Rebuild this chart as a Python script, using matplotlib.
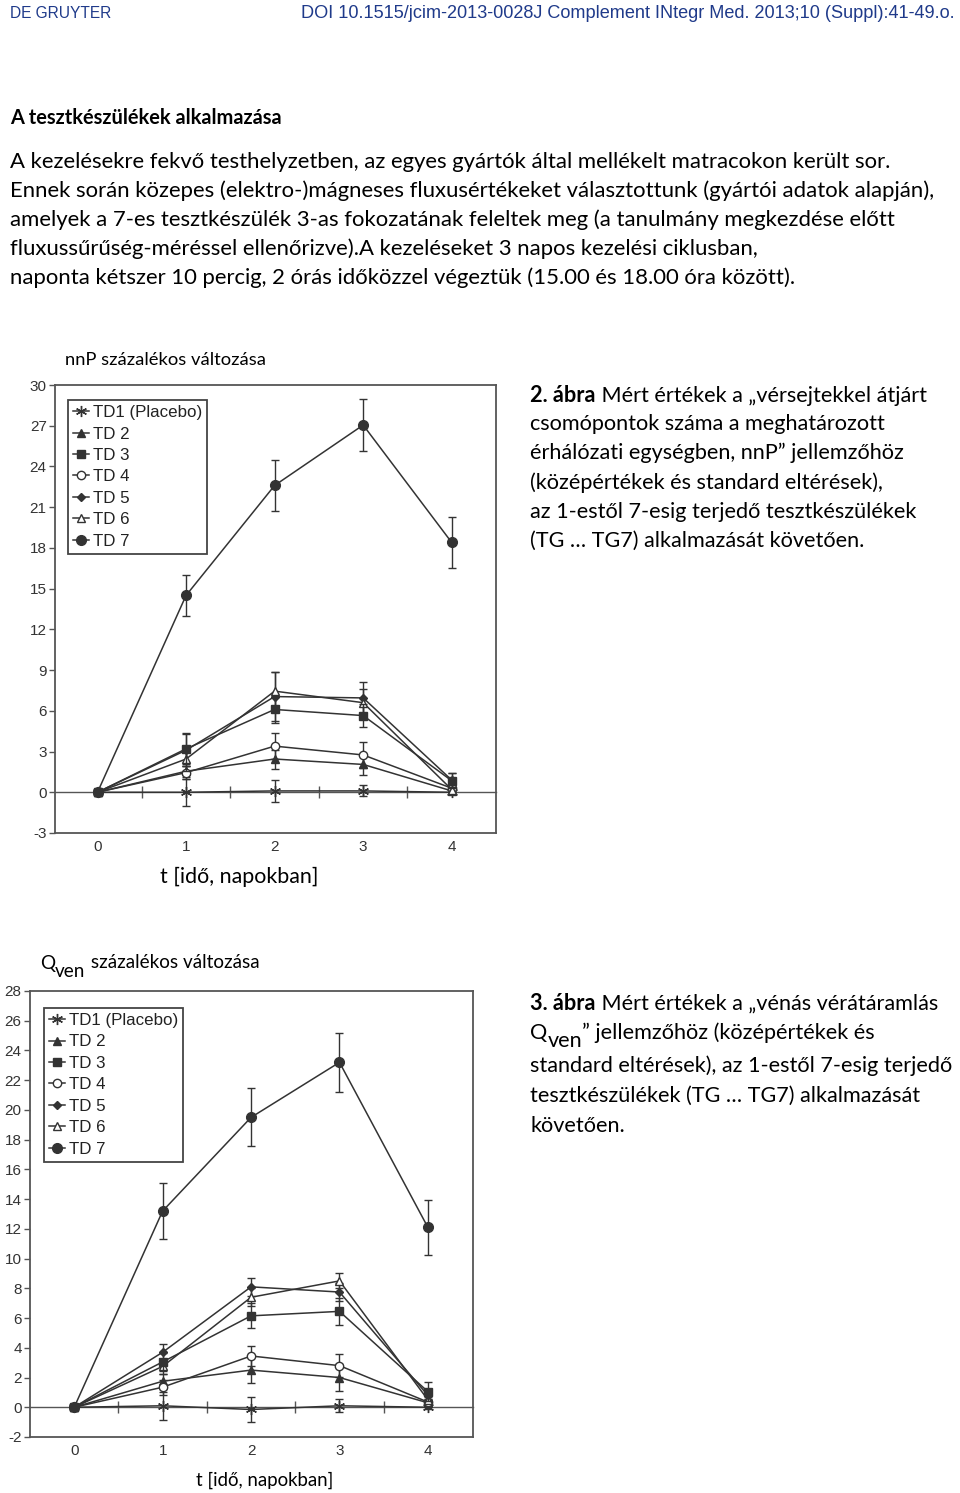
import matplotlib
matplotlib.use('Agg')
import matplotlib.pyplot as plt
from matplotlib.text import Annotation

plt.rcParams['axes.unicode_minus'] = False

W, H = 960, 1493

days = [0, 1, 2, 3, 4]
devices = ['TD1 (Placebo)', 'TD 2', 'TD 3', 'TD 4', 'TD 5', 'TD 6', 'TD 7']

# nNP percent change (means, sd), one row per device
nnp_mean = [
    [0, 0.0, 0.1, 0.1, 0.0],
    [0, 1.55, 2.45, 2.05, 0.1],
    [0, 3.2, 6.1, 5.65, 0.85],
    [0, 1.45, 3.4, 2.75, 0.3],
    [0, 3.1, 7.05, 6.95, 0.9],
    [0, 2.45, 7.45, 6.6, 0.2],
    [0, 14.5, 22.6, 27.05, 18.4],
]
nnp_sd = [
    [0, 1.0, 0.8, 0.4, 0.1],
    [0, 0.4, 0.7, 0.75, 0.15],
    [0, 1.15, 1.0, 0.85, 0.55],
    [0, 0.5, 0.95, 0.95, 0.2],
    [0, 1.2, 1.8, 1.2, 0.5],
    [0, 0.9, 1.4, 1.0, 0.2],
    [0, 1.5, 1.9, 1.9, 1.87],
]

# Qven percent change
qven_mean = [
    [0, 0.1, -0.15, 0.1, 0.0],
    [0, 1.75, 2.5, 2.0, 0.3],
    [0, 3.05, 6.15, 6.45, 1.05],
    [0, 1.35, 3.45, 2.8, 0.35],
    [0, 3.7, 8.1, 7.75, 0.8],
    [0, 2.75, 7.4, 8.5, 0.5],
    [0, 13.2, 19.5, 23.2, 12.1],
]
qven_sd = [
    [0, 0.95, 0.85, 0.45, 0.1],
    [0, 0.5, 0.85, 0.9, 0.2],
    [0, 0.6, 0.85, 0.9, 0.65],
    [0, 0.5, 0.7, 0.75, 0.2],
    [0, 0.55, 0.6, 0.6, 0.3],
    [0, 0.5, 0.6, 0.5, 0.2],
    [0, 1.9, 1.95, 2.0, 1.85],
]

nnp_ticks = [-3, 0, 3, 6, 9, 12, 15, 18, 21, 24, 27, 30]
qven_ticks = list(range(-2, 29, 2))

ink = '#333333'
styles = [
    dict(marker=(6, 2, 0), ms=8, mfc=ink, mec=ink, mew=1.0),
    dict(marker='^', ms=5.5, mfc=ink, mec=ink),
    dict(marker='s', ms=6, mfc=ink, mec=ink),
    dict(marker='o', ms=6, mfc='white', mec=ink, mew=1.0),
    dict(marker='D', ms=4.5, mfc=ink, mec=ink),
    dict(marker='^', ms=6, mfc='white', mec=ink, mew=1.0),
    dict(marker='o', ms=7, mfc=ink, mec=ink),
]
zorders = [3, 4, 9, 5, 6, 7, 8]

body_font = ['Lato', 'DejaVu Sans']
chart_font = ['Liberation Sans', 'DejaVu Sans']
BODY = 15.9
CAP = 15.6


def ptext(x, y, s, **kw):
    kw.setdefault('family', body_font)
    kw.setdefault('va', 'center')
    return fig.text(x / W, 1 - y / H, s, **kw)


def after(prev, s, dx=0, dy=0, size=CAP, **kw):
    # text that continues right after another text
    a = Annotation(s, xy=(1, 0), xycoords=prev, xytext=(dx, dy), textcoords='offset points',
                   va='bottom', ha='left', fontsize=size, family=body_font, **kw)
    fig.add_artist(a)
    return a


def draw_chart(ax, means, sds, ticks, xlim, ylim, leg_anchor):
    for i, lab in enumerate(devices):
        ax.errorbar(days, means[i], yerr=sds[i], fmt='none', ecolor=ink,
                    elinewidth=1.0, capsize=3, capthick=1.0, zorder=zorders[i] - 1)
        ax.plot(days, means[i], color=ink, lw=1.1, label=lab,
                zorder=zorders[i], **styles[i])
    ax.set_xlim(*xlim)
    ax.set_ylim(*ylim)
    ax.set_yticks(ticks)
    ax.set_xticks(days)
    for sp in ax.spines.values():
        sp.set_color('#555555')
        sp.set_linewidth(1.3)
    ax.tick_params(axis='y', direction='out', length=4, width=1, color='#555555',
                   labelsize=11, labelcolor='#333333', pad=2)
    ax.tick_params(axis='x', length=0, labelsize=11, labelcolor='#333333', pad=5)
    for t in ax.get_xticklabels() + ax.get_yticklabels():
        t.set_family(chart_font)
    # zero line with half-day ticks
    zero = (0 - ylim[0]) / (ylim[1] - ylim[0])
    sec = ax.secondary_xaxis(zero)
    sec.set_xticks([0.5, 1.5, 2.5, 3.5])
    sec.tick_params(direction='inout', length=9, width=1, color='#555555',
                    labelbottom=False, labeltop=False)
    sec.spines['bottom'].set_color('#555555')
    sec.spines['bottom'].set_linewidth(1.0)
    sec.spines['top'].set_visible(False)
    leg = ax.legend(loc='upper left', bbox_to_anchor=leg_anchor, frameon=True,
                    fancybox=False, edgecolor='#444444', framealpha=1,
                    prop={'family': chart_font, 'size': 12.2}, handlelength=0.95,
                    handletextpad=0.2, labelspacing=0.38, borderpad=0.3,
                    borderaxespad=0)
    leg.get_frame().set_linewidth(1.3)
    for t in leg.get_texts():
        t.set_color('#222222')


fig = plt.figure(figsize=(W / 100, H / 100), dpi=100)

# header and body text
hdr_col = '#1f3a8a'
ptext(10, 13, 'DE GRUYTER', fontsize=11.2, color=hdr_col, family=['Liberation Sans'])
ptext(955, 13, 'DOI 10.1515/jcim-2013-0028J Complement INtegr Med. 2013;10 (Suppl):41-49.o.',
      fontsize=13.1, color=hdr_col, ha='right', family=['Liberation Sans'])
ptext(10, 118, 'A tesztkészülékek alkalmazása', fontsize=14.4, weight='bold')
body = [
    'A kezelésekre fekvő testhelyzetben, az egyes gyártók által mellékelt matracokon került sor.',
    'Ennek során közepes (elektro-)mágneses fluxusértékeket választottunk (gyártói adatok alapján),',
    'amelyek a 7-es tesztkészülék 3-as fokozatának feleltek meg (a tanulmány megkezdése előtt',
    'fluxussűrűség-méréssel ellenőrizve).A kezeléseket 3 napos kezelési ciklusban,',
    'naponta kétszer 10 percig, 2 órás időközzel végeztük (15.00 és 18.00 óra között).',
]
for k, line in enumerate(body):
    ptext(10, 162 + k * 29, line, fontsize=BODY)

# chart 1
ax1 = fig.add_axes([55 / W, 1 - 833 / H, 441 / W, 448 / H])
draw_chart(ax1, nnp_mean, nnp_sd, nnp_ticks, (-0.48, 4.5), (-3, 30), (0.0295, 0.9665))
ptext(65, 360, 'nnP százalékos változása', fontsize=13.2)
ptext(239, 877, 't [idő, napokban]', fontsize=15.4, ha='center')

cap2 = [
    'csomópontok száma a meghatározott',
    'érhálózati egységben, nnP” jellemzőhöz',
    '(középértékek és standard eltérések),',
    'az 1-estől 7-esig terjedő tesztkészülékek',
    '(TG … TG7) alkalmazását követően.',
]
b2 = ptext(530, 395, '2. ábra', fontsize=CAP, weight='bold')
after(b2, ' Mért értékek a „vérsejtekkel átjárt')
for k, line in enumerate(cap2):
    ptext(530, 424 + k * 29.2, line, fontsize=CAP)

# chart 2
ax2 = fig.add_axes([30 / W, 1 - 1437 / H, 443 / W, 446 / H])
draw_chart(ax2, qven_mean, qven_sd, qven_ticks, (-0.5, 4.51), (-2, 28), (0.0316, 0.962))
q = ptext(40, 963, 'Q', fontsize=13.6)
v = after(q, 'ven', dy=-6, size=13.6)
after(v, ' százalékos változása', dy=6, size=13.6)
ptext(265, 1480, 't [idő, napokban]', fontsize=13.4, ha='center')

b3 = ptext(530, 1003, '3. ábra', fontsize=CAP, weight='bold')
after(b3, ' Mért értékek a „vénás vérátáramlás')
q3 = ptext(530, 1033, 'Q', fontsize=CAP)
v3 = after(q3, 'ven', dy=-6)
after(v3, '” jellemzőhöz (középértékek és', dy=6)
for k, line in enumerate(['standard eltérések), az 1-estől 7-esig terjedő',
                          'tesztkészülékek (TG … TG7) alkalmazását',
                          'követően.']):
    ptext(530, 1066 + k * 30, line, fontsize=CAP)

fig.savefig('out.png', dpi=100)
